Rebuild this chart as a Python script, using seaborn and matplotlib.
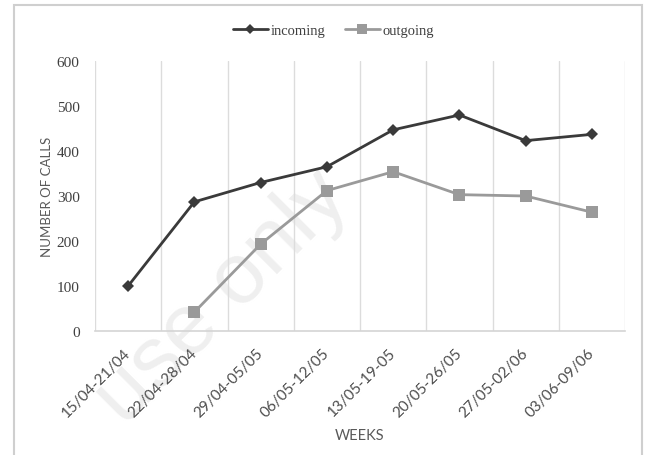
import matplotlib
matplotlib.use("Agg")
import matplotlib.pyplot as plt
from matplotlib.lines import Line2D
from matplotlib.patches import Rectangle
import numpy as np
import pandas as pd
import seaborn as sns

# Weekly call volumes
weeks = ["15/04-21/04", "22/04-28/04", "29/04-05/05", "06/05-12/05",
         "13/05-19-05", "20/05-26/05", "27/05-02/06", "03/06-09/06"]
incoming = [100, 287, 330, 365, 447, 480, 423, 437]
outgoing = [np.nan, 42, 193, 312, 354, 303, 300, 264]
y_ticks = [0, 100, 200, 300, 400, 500, 600]

sns.set_theme(style="white")
plt.rcParams["font.family"] = ["Lato", "DejaVu Sans"]

df = pd.DataFrame({"pos": np.arange(len(weeks)), "week": weeks,
                   "incoming": incoming, "outgoing": outgoing})

fig = plt.figure(figsize=(6.45, 4.56), dpi=100)
ax = fig.add_axes([95 / 645, 1 - 332 / 456, 530 / 645, 270 / 456])

# faint diagonal stamp behind the chart
fig.text(0.345, 0.345, "use only", fontsize=62, rotation=45, color="#efefef",
         family="Liberation Sans", ha="center", va="center", zorder=0)
ax.set_facecolor("none")
ax.set_zorder(1)

inc_color = "#3a3a3a"
out_color = "#9a9a9a"

sns.lineplot(data=df, x="pos", y="incoming", ax=ax, color=inc_color,
             linewidth=2, marker="D", markersize=6.5, markeredgewidth=0,
             zorder=4)
sns.lineplot(data=df.dropna(), x="pos", y="outgoing", ax=ax, color=out_color,
             linewidth=2, marker="s", markersize=8, markeredgewidth=0,
             zorder=3)

ax.set_xlim(-0.5, len(weeks) - 0.5)
ax.set_ylim(0, 600)
ax.set_yticks(y_ticks)
ax.set_yticklabels([str(v) for v in y_ticks], family="Liberation Serif",
                   fontsize=11, color="#404040")
ax.set_xticks(np.arange(len(weeks)))
ax.set_xticklabels(weeks, rotation=45, ha="right", va="center",
                   rotation_mode="anchor", fontsize=11, color="#4d4d4d")
ax.tick_params(axis="both", length=0)
ax.tick_params(axis="y", pad=11)
ax.tick_params(axis="x", pad=14)

# vertical separators between the weeks
for b in np.arange(-0.5, len(weeks), 1.0):
    ax.axvline(b, color="#dcdcdc", linewidth=1, zorder=1)

for side in ["top", "right", "left"]:
    ax.spines[side].set_visible(False)
ax.spines["bottom"].set_color("#d4d4d4")
ax.spines["bottom"].set_linewidth(1.2)

ax.set_xlabel("WEEKS", fontsize=10.5, color="#595959")
ax.xaxis.set_label_coords(0.5, -0.36)
ax.set_ylabel("NUMBER OF CALLS", fontsize=9.5, color="#595959")
ax.yaxis.set_label_coords(-0.08, 0.5)

handles = [
    Line2D([], [], color=inc_color, linewidth=2, marker="D", markersize=5,
           markeredgewidth=0, label="incoming"),
    Line2D([], [], color=out_color, linewidth=2, marker="s", markersize=6.5,
           markeredgewidth=0, label="outgoing"),
]
fig.legend(handles=handles, loc="center", bbox_to_anchor=(0.517, 1 - 31 / 456),
           ncol=2, frameon=False, prop={"family": "Liberation Serif", "size": 10.5},
           handlelength=2.4, handletextpad=0.2, columnspacing=1.3,
           labelcolor="#404040")

# outer chart border
fig.patches.append(Rectangle((14 / 645, -0.05), 628 / 645, 1.05 - 6 / 456,
                             transform=fig.transFigure, fill=False,
                             edgecolor="#cfcfcf", linewidth=1.5, zorder=0))

fig.savefig("out.png", dpi=100)
